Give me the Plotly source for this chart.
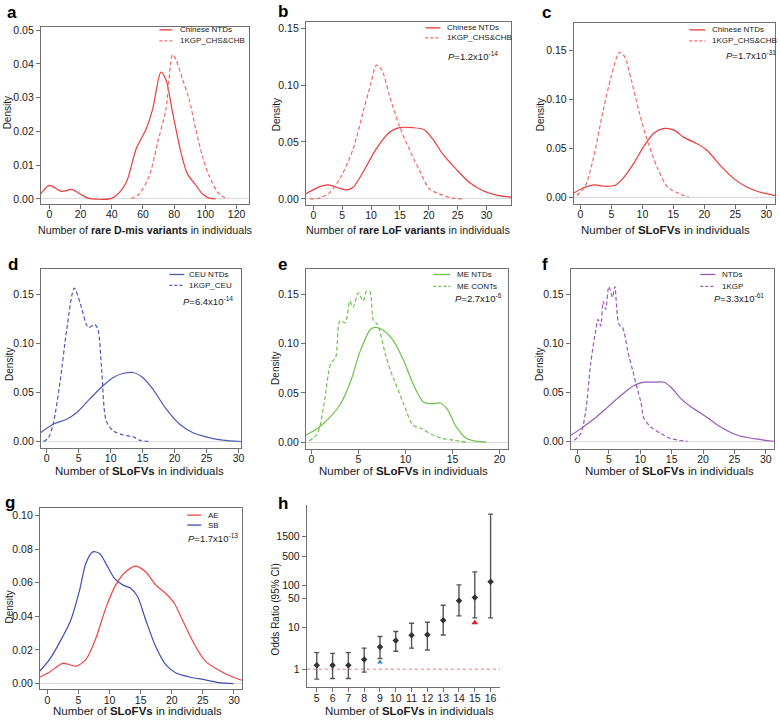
import plotly.graph_objects as go

W, H = 780, 720
FONT = "Arial, Liberation Sans, sans-serif"

# ---------------- data ----------------
# panel a: rare D-mis variants
a_ntd_x = [-5.5, 0, 7.9, 14.2, 19.5, 24.8, 38.6, 42.9, 49.3, 55.6, 62, 66.2, 71.5, 74.7, 79, 84.3, 88.5, 93.8, 98, 102.3, 106.6]
a_ntd_y = [0.0015, 0.0040, 0.0022, 0.0028, 0.0015, 0.0002, 0.0, 0.0010, 0.0049, 0.0148, 0.0207, 0.0266, 0.0376, 0.0354, 0.0256, 0.0138, 0.0074, 0.0041, 0.0015, 0.0002, 0.0]
a_kgp_x = [52.4, 57.7, 64.1, 69.4, 74.7, 79, 81.1, 85.4, 89.6, 93.8, 98, 102.3, 108.7, 114]
a_kgp_y = [0.0, 0.0015, 0.0069, 0.0167, 0.0266, 0.0428, 0.0413, 0.0354, 0.0295, 0.0207, 0.0128, 0.0069, 0.0015, 0.0]

# panel b: rare LoF variants
b_ntd_x = [-1.3, 1.1, 2.6, 4.0, 5.7, 6.9, 8.6, 10.9, 13.2, 14.9, 17.2, 19.2, 20.7, 22.4, 24.7, 27.0, 29.3, 32.1, 34.25]
b_ntd_y = [0.0044, 0.0108, 0.0123, 0.0102, 0.0079, 0.0102, 0.0234, 0.0439, 0.0585, 0.0626, 0.0626, 0.0608, 0.0526, 0.0395, 0.0263, 0.0146, 0.0073, 0.0029, 0.0015]
b_kgp_x = [-0.6, 1.1, 2.9, 4.9, 6.9, 8.6, 10.0, 10.9, 11.8, 13.2, 14.9, 16.6, 18.4, 20.1, 21.8, 24.1, 25.8]
b_kgp_y = [0.0, 0.0006, 0.0058, 0.0205, 0.0439, 0.076, 0.102, 0.1175, 0.114, 0.0906, 0.0643, 0.0439, 0.0249, 0.0088, 0.0044, 0.0006, 0.0]

# panel c: SLoFVs, Chinese
c_ntd_x = [-1.07, 0.7, 2.3, 3.9, 5.5, 6.8, 8.7, 10.3, 11.9, 13.5, 15.1, 16.7, 18.9, 20.5, 22.6, 24.8, 26.9, 29.0, 31.4]
c_ntd_y = [0.0044, 0.0102, 0.0126, 0.0112, 0.0119, 0.0187, 0.0356, 0.0526, 0.0655, 0.0702, 0.0685, 0.0611, 0.0543, 0.0475, 0.0322, 0.0187, 0.0102, 0.0051, 0.0017]
c_kgp_x = [-0.6, 0.7, 2.0, 3.6, 5.0, 6.3, 7.1, 8.2, 9.5, 10.9, 12.5, 14.1, 15.7, 17.5]
c_kgp_y = [0.0017, 0.0102, 0.0373, 0.0865, 0.124, 0.148, 0.144, 0.120, 0.0865, 0.056, 0.0288, 0.0102, 0.0044, 0.0]

# panel d: CEU
d_ntd_x = [-0.93, 1.0, 3.1, 4.7, 6.7, 8.8, 10.4, 11.9, 13.5, 15.0, 16.6, 18.7, 20.8, 22.8, 24.9, 27.5, 30.4]
d_ntd_y = [0.0092, 0.0176, 0.0227, 0.0295, 0.0431, 0.0567, 0.0651, 0.0692, 0.0702, 0.0651, 0.0533, 0.0329, 0.0176, 0.0092, 0.0048, 0.0014, 0.0]
d_kgp_x = [-0.5, 0.26, 1.0, 2.1, 3.1, 4.3, 5.2, 6.5, 7.5, 8.0, 8.6, 9.3, 10.4, 11.9, 13.5, 14.5, 16.1]
d_kgp_y = [0.0, 0.004, 0.0176, 0.0618, 0.113, 0.156, 0.1415, 0.116, 0.119, 0.114, 0.0719, 0.021, 0.0109, 0.0068, 0.0048, 0.0014, 0.0]

# panel e: ME
e_ntd_x = [-0.6, 0.63, 2.0, 3.1, 4.2, 5.2, 6.3, 6.8, 7.7, 8.7, 9.8, 10.8, 11.9, 12.96, 13.7, 14.4, 15.4, 16.5, 17.5, 18.6]
e_ntd_y = [0.0071, 0.0138, 0.0256, 0.039, 0.0626, 0.0928, 0.1147, 0.1164, 0.113, 0.1029, 0.0827, 0.0592, 0.0407, 0.039, 0.0397, 0.034, 0.0155, 0.0037, 0.001, 0.0]
e_con_x = [-0.25, 0.63, 1.34, 2.04, 2.57, 3.03, 3.6, 4.08, 4.4, 5.0, 5.5, 5.85, 6.2, 6.6, 6.97, 7.25, 7.85, 8.4, 9.1, 9.8, 10.8, 11.7, 12.96, 14.0, 15.1, 16.5]
e_con_y = [0.0013, 0.0087, 0.039, 0.0794, 0.086, 0.123, 0.121, 0.143, 0.1366, 0.1513, 0.143, 0.153, 0.153, 0.123, 0.12, 0.113, 0.0895, 0.0727, 0.0558, 0.039, 0.0172, 0.0138, 0.0071, 0.0037, 0.002, 0.0]

# panel f: all NTDs vs 1KGP
f_ntd_x = [-1.06, 0.53, 2.66, 4.8, 6.9, 9.0, 10.6, 12.2, 13.8, 14.9, 16.5, 18.1, 20.2, 22.8, 25.5, 28.1, 31.3]
f_ntd_y = [0.0061, 0.0129, 0.023, 0.0349, 0.0467, 0.0569, 0.0603, 0.0603, 0.0603, 0.0552, 0.0433, 0.0349, 0.0264, 0.0146, 0.0061, 0.0027, 0.0]
f_kgp_x = [-0.5, 0.53, 1.33, 2.1, 2.9, 3.3, 3.7, 4.1, 4.5, 5.0, 5.6, 5.95, 6.6, 7.2, 8.0, 8.8, 9.6, 10.1, 10.6, 11.7, 13.3, 14.9, 17.5]
f_kgp_y = [0.001, 0.0078, 0.0315, 0.0789, 0.1128, 0.1246, 0.1178, 0.1426, 0.1348, 0.158, 0.147, 0.158, 0.1195, 0.116, 0.0924, 0.0721, 0.0518, 0.04, 0.023, 0.0146, 0.0078, 0.0027, 0.0]

# panel g: AE vs SB
g_ae_x = [-1.2, 0.37, 2.5, 4.6, 6.2, 7.8, 9.4, 11.0, 12.6, 14.2, 15.8, 17.4, 19.0, 20.4, 21.95, 23.8, 25.4, 27.5, 29.7, 31.3]
g_ae_y = [0.0039, 0.0069, 0.012, 0.0104, 0.0144, 0.027, 0.0449, 0.0587, 0.0665, 0.0699, 0.0665, 0.0587, 0.0537, 0.0478, 0.036, 0.0222, 0.0134, 0.0081, 0.0041, 0.002]
g_sb_x = [-1.2, 0.37, 2.5, 3.8, 5.2, 6.2, 7.3, 8.4, 9.4, 10.8, 12.1, 13.4, 14.5, 15.8, 17.4, 19.0, 20.6, 22.7, 25.4, 27.5, 29.9]
g_sb_y = [0.0075, 0.0144, 0.0281, 0.038, 0.0557, 0.0715, 0.0783, 0.0774, 0.0715, 0.0626, 0.0587, 0.0567, 0.0518, 0.038, 0.0222, 0.0114, 0.0065, 0.0041, 0.0022, 0.0006, 0.0]

# panel h: odds ratios
h_n = [5, 6, 7, 8, 9, 10, 11, 12, 13, 14, 15, 16]
h_or = [1.24, 1.25, 1.25, 1.7, 3.4, 4.9, 6.5, 6.7, 14.9, 44, 52, 125]
h_lo = [0.58, 0.6, 0.6, 0.85, 1.8, 2.7, 3.2, 2.9, 6.6, 19, 17, 17]
h_hi = [2.5, 2.4, 2.5, 3.2, 6.1, 8.0, 12.6, 13.4, 34, 105, 215, 5200]
h_blue_x, h_blue_y = [9], [1.47]
h_red_x, h_red_y = [15], [13]
h_ref = 1
h_ticks = [1, 10, 50, 100, 500, 1500]

legend_labels = {
    "a": ["Chinese NTDs", "1KGP_CHS&CHB"],
    "b": ["Chinese NTDs", "1KGP_CHS&CHB"],
    "c": ["Chinese NTDs", "1KGP_CHS&CHB"],
    "d": ["CEU NTDs", "1KGP_CEU"],
    "e": ["ME NTDs", "ME CONTs"],
    "f": ["NTDs", "1KGP"],
    "g": ["AE", "SB"],
}
p_texts = {
    "b": "<i>P</i>=1.2x10<sup>-14</sup>",
    "c": "<i>P</i>=1.7x10<sup>-31</sup>",
    "d": "<i>P</i>=6.4x10<sup>-14</sup>",
    "e": "<i>P</i>=2.7x10<sup>-6</sup>",
    "f": "<i>P</i>=3.3x10<sup>-61</sup>",
    "g": "<i>P</i>=1.7x10<sup>-13</sup>",
}

# ---------------- layout geometry (pixels) ----------------
panels = {
    "a": (41, 250, 24, 202, [-5.5, 128], [-0.0015, 0.051]),
    "b": (307, 513, 19, 203, [-1.3, 34.25], [-0.0053, 0.1556]),
    "c": (576, 778, 20, 202, [-1.07, 31.4], [-0.0068, 0.178]),
    "d": (41, 242, 267, 447, [-0.93, 30.4], [-0.0061, 0.176]),
    "e": (307, 510, 267, 448, [-0.6, 20.9], [-0.0064, 0.176]),
    "f": (573, 777, 267, 448, [-1.06, 31.3], [-0.0074, 0.1764]),
    "g": (40, 243, 508, 690, [-1.2, 31.3], [-0.0033, 0.1043]),
    "h": (308, 502, 505, 688, [4.37, 16.6], [-0.43, 3.93]),
}
order = ["a", "b", "c", "d", "e", "f", "g", "h"]

def px(x):
    return x / W

def py(y):
    return 1 - y / H

RED = "#ee3b3b"
RED_D = "#f06a64"
BLUE = "#4b5cb8"
GREEN = "#6cc24a"
PURPLE = "#9a58b8"
AE = "#ef4444"
SB = "#3d4fb0"
DASH = "4px,2.5px"

fig = go.Figure()
layout = dict(
    width=W, height=H, margin=dict(l=0, r=0, t=0, b=0),
    paper_bgcolor="white", plot_bgcolor="white",
    font=dict(family=FONT, size=10.5, color="#1a1a1a"),
    showlegend=False,
)

axis_common = dict(showline=True, linecolor="#707070", linewidth=1, ticks="outside",
                   ticklen=4, tickcolor="#707070", showgrid=False,
                   tickfont=dict(family=FONT, size=10.5, color="#1a1a1a"))

yticks = {
    "a": [0, 0.01, 0.02, 0.03, 0.04, 0.05],
    "g": [0, 0.02, 0.04, 0.06, 0.08, 0.10],
}
xticks = {
    "a": [0, 20, 40, 60, 80, 100, 120],
    "e": [0, 5, 10, 15, 20],
}

for i, k in enumerate(order):
    x0, x1, yt, yb, xr, yr = panels[k]
    n = "" if i == 0 else str(i + 1)
    xa = dict(axis_common, domain=[px(x0), px(x1)], range=xr, anchor="y" + n, zeroline=False,
              ticklabelstandoff=-3)
    ya = dict(axis_common, domain=[py(yb), py(yt)], range=yr, anchor="x" + n)
    if k == "h":
        xa.update(mirror=False, tickvals=h_n)
        ya.update(mirror=False, type="log", tickvals=h_ticks,
                  ticktext=[str(t) for t in h_ticks], zeroline=False)
    else:
        xa.update(mirror=True, tickvals=xticks.get(k, [0, 5, 10, 15, 20, 25, 30]))
        ya.update(mirror=True, tickvals=yticks.get(k, [0, 0.05, 0.10, 0.15]), tickformat=".2f",
                  zeroline=True, zerolinecolor="#d9d9d9", zerolinewidth=1)
    layout["xaxis" + n] = xa
    layout["yaxis" + n] = ya

series = {
    "a": (a_ntd_x, a_ntd_y, RED, a_kgp_x, a_kgp_y, RED_D, True),
    "b": (b_ntd_x, b_ntd_y, RED, b_kgp_x, b_kgp_y, RED_D, True),
    "c": (c_ntd_x, c_ntd_y, RED, c_kgp_x, c_kgp_y, RED_D, True),
    "d": (d_ntd_x, d_ntd_y, BLUE, d_kgp_x, d_kgp_y, BLUE, True),
    "e": (e_ntd_x, e_ntd_y, GREEN, e_con_x, e_con_y, GREEN, True),
    "f": (f_ntd_x, f_ntd_y, PURPLE, f_kgp_x, f_kgp_y, PURPLE, True),
    "g": (g_ae_x, g_ae_y, AE, g_sb_x, g_sb_y, SB, False),
}

for i, k in enumerate(order[:7]):
    n = "" if i == 0 else str(i + 1)
    x1s, y1s, c1, x2s, y2s, c2, dashed = series[k]
    names = legend_labels[k]
    fig.add_trace(go.Scatter(x=x1s, y=y1s, mode="lines", name=names[0],
                             line=dict(color=c1, width=1.2, shape="spline", smoothing=0.8),
                             xaxis="x" + n, yaxis="y" + n, hoverinfo="skip"))
    fig.add_trace(go.Scatter(x=x2s, y=y2s, mode="lines", name=names[1],
                             line=dict(color=c2, width=1.2, shape="spline", smoothing=0.8,
                                       dash=DASH if dashed else "solid"),
                             xaxis="x" + n, yaxis="y" + n, hoverinfo="skip"))

# panel h
err_plus = [hi - o for hi, o in zip(h_hi, h_or)]
err_minus = [o - lo for lo, o in zip(h_lo, h_or)]
fig.add_trace(go.Scatter(x=h_n, y=h_or, mode="markers", xaxis="x8", yaxis="y8",
                         marker=dict(symbol="diamond", size=5, color="#333333"),
                         error_y=dict(type="data", symmetric=False, array=err_plus, arrayminus=err_minus,
                                      color="#555555", thickness=1.4, width=2.5),
                         hoverinfo="skip"))
fig.add_trace(go.Scatter(x=h_blue_x, y=h_blue_y, mode="markers", xaxis="x8", yaxis="y8",
                         marker=dict(symbol="triangle-up", size=5, color="#3b7fc4"), hoverinfo="skip"))
fig.add_trace(go.Scatter(x=h_red_x, y=h_red_y, mode="markers", xaxis="x8", yaxis="y8",
                         marker=dict(symbol="triangle-up", size=6, color="#e02020"), hoverinfo="skip"))

shapes = [dict(type="line", xref="x8 domain", yref="y8", x0=0, x1=1, y0=h_ref, y1=h_ref,
               line=dict(color="#f4a3a3", width=1.5, dash="dot"), layer="below")]

annotations = []

# legend keys + labels: (key x0, key x1, text x, y1, y2) in pixels
leg_pos = {
    "a": (160, 173, 179, 27, 38), "b": (427, 442, 447, 25, 35), "c": (692, 708, 713, 27, 38),
    "d": (170, 185, 188, 273, 284), "e": (435, 452, 457, 273, 285), "f": (703, 718, 723, 273, 285),
    "g": (188, 202, 207, 515, 525),
}
for k, (kx0, kx1, tx, y1, y2) in leg_pos.items():
    _, _, c1, _, _, c2, dashed = series[k]
    for j, (yy, col) in enumerate([(y1, c1), (y2, c2)]):
        ln = dict(color=col, width=1.3)
        if j == 1 and dashed:
            ln["dash"] = "3px,2px"
        shapes.append(dict(type="line", xref="paper", yref="paper", x0=px(kx0), x1=px(kx1),
                           y0=py(yy), y1=py(yy), line=ln))
        annotations.append(dict(text=legend_labels[k][j], x=px(tx), y=py(yy), xref="paper", yref="paper",
                                xanchor="left", yanchor="middle", showarrow=False,
                                font=dict(family=FONT, size=8, color="#1a1a1a")))

# P values (left x px, center y px)
p_pos = {"b": (448, 53), "c": (727, 52), "d": (182, 300), "e": (455, 297), "f": (715, 297), "g": (187, 538)}
for k, (xx, yy) in p_pos.items():
    annotations.append(dict(text=p_texts[k], x=px(xx), y=py(yy), xref="paper", yref="paper",
                            xanchor="left", yanchor="middle", showarrow=False,
                            font=dict(family=FONT, size=9.5, color="#1a1a1a")))

# panel letters
letters = {"a": (5, 10), "b": (277, 9), "c": (542, 10), "d": (6, 263),
           "e": (277, 263), "f": (542, 263), "g": (3, 502), "h": (277, 503)}
for k, (xx, yy) in letters.items():
    annotations.append(dict(text="<b>%s</b>" % k, x=px(xx), y=py(yy), xref="paper", yref="paper",
                            xanchor="left", yanchor="middle", showarrow=False,
                            font=dict(family=FONT, size=17, color="black")))

# x axis titles (center x, center y, text, font size)
xt = {
    "a": (146, 228, "Number of <b>rare D-mis variants</b> in individuals", 10.7),
    "b": (410, 228, "Number of <b>rare LoF variants</b> in individuals", 10.7),
    "c": (668, 228, "Number of <b>SLoFVs</b> in individuals", 11.5),
    "d": (140, 471, "Number of <b>SLoFVs</b> in individuals", 11.5),
    "e": (405, 471, "Number of <b>SLoFVs</b> in individuals", 11.5),
    "f": (672, 471, "Number of <b>SLoFVs</b> in individuals", 11.5),
    "g": (138, 712, "Number of <b>SLoFVs</b> in individuals", 11.5),
    "h": (411, 712, "Number of <b>SLoFVs</b> in individuals", 11.5),
}
for k, (xx, yy, t, fs) in xt.items():
    annotations.append(dict(text=t, x=px(xx), y=py(yy), xref="paper", yref="paper",
                            xanchor="center", yanchor="middle", showarrow=False,
                            font=dict(family=FONT, size=fs, color="#1a1a1a")))

# y axis titles
ytl = {
    "a": (7, 110, "Density"), "b": (277, 112, "Density"), "c": (542, 112, "Density"),
    "d": (10, 363, "Density"), "e": (277, 367, "Density"), "f": (542, 363, "Density"),
    "g": (10, 607, "Density"), "h": (277, 610, "Odds Ratio (95% CI)"),
}
for k, (xx, yy, t) in ytl.items():
    annotations.append(dict(text=t, x=px(xx), y=py(yy), xref="paper", yref="paper",
                            xanchor="center", yanchor="middle", showarrow=False, textangle=-90,
                            font=dict(family=FONT, size=10, color="#1a1a1a")))

layout["annotations"] = annotations
layout["shapes"] = shapes
fig.update_layout(**layout)
fig.write_html("out.html", config={"displayModeBar": False},
               post_script="document.body.style.margin='0';document.body.style.overflow='hidden';")
